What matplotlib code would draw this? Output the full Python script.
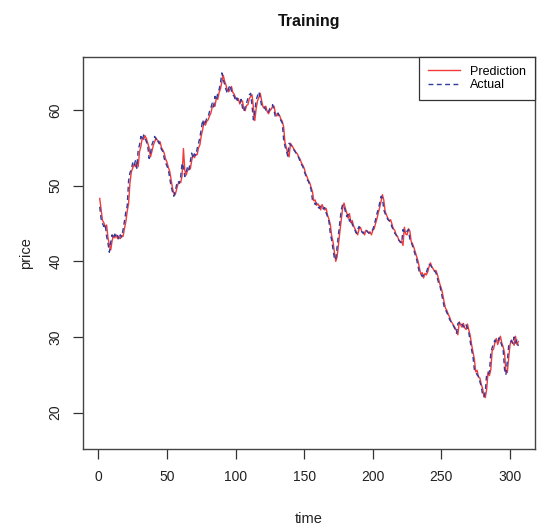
import numpy as np
import matplotlib
matplotlib.use("Agg")
import matplotlib.pyplot as plt

actual = [
    47.2, 45.6, 45.0, 44.6, 44.9, 43.3, 42.4, 41.2, 42.5, 43.5,
    43.0, 43.6, 43.1, 43.4, 42.9, 43.5, 43.2, 44.2, 45.3, 46.5,
    47.3, 50.6, 51.7, 52.1, 53.0, 52.6, 53.3, 52.3, 54.7, 55.4,
    56.5, 56.0, 56.7, 56.3, 55.8, 55.2, 53.6, 54.3, 55.4, 55.9,
    56.5, 56.2, 55.7, 55.9, 55.2, 54.8, 54.5, 53.6, 53.0, 52.6,
    52.1, 51.0, 49.9, 49.2, 48.6, 49.3, 50.1, 50.6, 50.3, 51.2,
    53.0, 52.4, 51.2, 51.8, 52.5, 52.1, 53.2, 54.3, 53.6, 54.2,
    54.0, 54.9, 55.6, 56.4, 57.5, 58.7, 57.9, 58.4, 58.9, 59.1,
    59.8, 60.3, 60.9, 60.4, 61.8, 61.3, 62.2, 62.7, 63.6, 64.9,
    64.0, 63.4, 62.7, 62.2, 62.9, 63.3, 62.5, 62.0, 61.8, 61.2,
    61.6, 61.0, 60.9, 61.4, 60.3, 59.8, 60.4, 60.9, 61.6, 62.0,
    62.2, 60.5, 58.7, 59.9, 61.3, 61.9, 62.4, 61.5, 60.5, 60.3,
    60.4, 60.0, 59.6, 59.8, 60.2, 60.3, 60.7, 59.9, 59.1, 59.4,
    59.6, 59.0, 58.6, 58.3, 56.1, 55.2, 54.6, 53.9, 55.6, 55.4,
    55.2, 54.8, 54.6, 54.3, 54.0, 53.7, 53.2, 52.8, 52.5, 51.9,
    51.4, 50.8, 50.6, 50.1, 49.5, 48.1, 48.0, 47.5, 47.7, 47.2,
    47.0, 47.4, 47.3, 46.9, 47.1, 46.4, 45.9, 45.3, 43.7, 42.8,
    41.6, 40.4, 40.2, 42.0, 43.6, 45.1, 46.8, 47.5, 47.3, 46.6,
    45.9, 46.2, 45.3, 45.6, 44.9, 44.5, 44.1, 43.7, 44.2, 44.6,
    44.1, 43.9, 43.7, 44.0, 44.2, 43.9, 43.8, 43.7, 44.0, 44.2,
    44.8, 45.5, 46.3, 46.9, 47.7, 48.6, 48.4, 46.8, 46.3, 45.9,
    45.5, 45.4, 45.1, 44.5, 44.2, 43.7, 43.5, 43.0, 42.8, 42.6,
    42.4, 44.2, 43.9, 43.7, 44.0, 44.2, 42.9, 42.5, 42.0, 41.4,
    40.8, 40.2, 39.3, 38.5, 38.3, 38.0, 38.2, 38.4, 38.5, 39.1,
    39.6, 39.5, 39.2, 38.9, 38.7, 38.5, 37.8, 37.1, 36.7, 35.8,
    34.9, 34.0, 33.6, 33.2, 32.8, 32.3, 32.0, 31.7, 31.4, 31.0,
    30.5, 31.8, 31.9, 31.5, 31.7, 31.4, 31.2, 31.6, 31.1, 30.5,
    29.4, 28.3, 27.4, 25.7, 25.4, 25.0, 24.8, 24.1, 23.5, 22.4,
    22.1, 22.8, 25.2, 25.1, 25.4, 27.9, 28.6, 29.1, 29.6, 29.2,
    29.3, 29.9, 29.4, 28.9, 28.3, 25.7, 25.0, 26.8, 28.8, 29.3,
    29.5, 29.1, 30.0, 29.2, 29.6, 28.8,
]

prediction = [
    48.3, 46.9, 45.4, 45.1, 44.5, 44.8, 43.1, 42.2, 41.5, 42.7,
    43.4, 43.1, 43.5, 43.0, 43.3, 43.0, 43.4, 43.3, 44.3, 45.2,
    46.6, 47.6, 50.3, 51.8, 52.3, 52.8, 52.5, 53.1, 52.5, 54.5,
    55.2, 56.3, 56.1, 56.6, 56.2, 55.6, 55.0, 53.8, 54.5, 55.3,
    55.8, 56.3, 56.0, 55.6, 55.8, 55.0, 54.7, 54.3, 53.5, 53.1,
    52.4, 51.9, 50.8, 49.7, 49.0, 48.8, 49.5, 50.2, 50.5, 50.4,
    51.3, 54.9, 52.0, 51.4, 52.0, 52.3, 52.2, 53.3, 54.1, 53.7,
    54.1, 54.1, 55.0, 55.4, 56.6, 57.4, 58.5, 58.0, 58.5, 58.7,
    59.2, 59.6, 60.4, 60.7, 60.5, 61.6, 61.4, 62.3, 62.8, 63.7,
    64.6, 63.8, 63.3, 62.6, 62.4, 62.8, 63.1, 62.3, 62.1, 61.6,
    61.3, 61.5, 60.8, 61.1, 61.2, 60.1, 59.9, 60.6, 60.7, 61.5,
    61.8, 62.0, 60.3, 58.6, 60.2, 61.2, 61.7, 62.2, 61.2, 60.4,
    60.2, 60.5, 59.8, 59.5, 59.9, 60.1, 60.5, 60.5, 59.6, 59.2,
    59.5, 59.3, 58.8, 58.5, 57.8, 55.7, 55.0, 54.3, 53.8, 55.6,
    55.3, 55.0, 54.7, 54.4, 54.2, 53.8, 53.5, 53.0, 52.7, 52.3,
    51.6, 51.2, 50.7, 50.4, 49.8, 49.2, 48.0, 48.1, 47.4, 47.6,
    47.3, 46.8, 47.5, 47.1, 46.8, 47.0, 46.1, 45.6, 44.9, 43.4,
    42.6, 41.2, 40.0, 40.6, 42.3, 43.9, 45.4, 47.0, 47.7, 47.0,
    46.4, 45.7, 46.3, 45.1, 45.4, 44.7, 44.3, 43.9, 43.5, 44.3,
    44.5, 43.9, 43.8, 43.5, 44.1, 44.0, 43.7, 43.9, 43.5, 44.1,
    44.3, 45.0, 45.6, 46.4, 47.1, 47.9, 48.8, 48.1, 46.6, 46.1,
    45.7, 45.3, 45.5, 44.9, 44.3, 44.1, 43.5, 43.3, 42.8, 42.5,
    42.7, 42.1, 44.5, 43.6, 43.5, 44.3, 44.0, 42.6, 42.3, 41.8,
    41.2, 40.6, 40.0, 39.1, 38.3, 38.5, 37.8, 38.4, 38.2, 38.6,
    39.3, 39.8, 39.3, 39.0, 38.7, 38.8, 38.3, 37.6, 36.9, 36.4,
    35.6, 34.6, 33.8, 33.5, 33.0, 32.6, 32.1, 31.8, 31.5, 31.2,
    30.8, 30.3, 32.0, 31.6, 31.3, 31.8, 31.2, 31.0, 31.7, 30.9,
    30.2, 29.0, 28.0, 27.1, 25.4, 25.6, 24.7, 24.6, 23.8, 23.2,
    22.2, 22.0, 23.1, 25.4, 24.9, 25.7, 28.2, 28.4, 29.3, 29.8,
    29.0, 29.5, 30.1, 29.2, 28.7, 27.9, 25.4, 25.3, 27.2, 29.0,
    29.6, 29.3, 28.9, 30.1, 29.0, 29.4,
]

x_ticks = [0, 50, 100, 150, 200, 250, 300]
y_ticks = [20, 30, 40, 50, 60]

t_act = np.arange(1, len(actual) + 1)
t_pred = np.arange(1, len(prediction) + 1)

plt.rcParams['font.family'] = ['Liberation Sans', 'DejaVu Sans']

fig = plt.figure(figsize=(5.42, 5.32), dpi=100)
ax = fig.add_axes([83 / 542, 1 - 449 / 532, (535 - 83) / 542, (449 - 57) / 532])

ax.plot(t_pred, prediction, color='#F23A3A', lw=1.0, label='Prediction')
ax.plot(t_act, actual, color='#2F3C9E', lw=1.0, ls=(0, (3.5, 2.5)), label='Actual')

n = max(len(actual), len(prediction))
pad = 0.04 * (n - 1)
ax.set_xlim(1 - pad, n + pad)
ax.set_ylim(15.2, 67.0)

ax.set_xticks(x_ticks)
ax.set_yticks(y_ticks)
ax.tick_params(direction='out', length=7, width=0.9, colors='#333333',
               labelsize=10, pad=8, labelcolor='#222222')
for lab in ax.get_yticklabels():
    lab.set_rotation(90)
    lab.set_va('center')

for sp in ax.spines.values():
    sp.set_color('#444444')
    sp.set_linewidth(1.0)

ax.set_xlabel('time', fontsize=10.5, color='#222222', labelpad=20)
ax.set_ylabel('price', fontsize=10.5, color='#222222', labelpad=11)
ax.set_title('Training', fontsize=11.5, fontweight='bold', color='#111111', pad=22)

leg = ax.legend(loc='upper right', fontsize=9, frameon=True, fancybox=False,
                borderaxespad=0, handlelength=2.6, handletextpad=0.8,
                labelspacing=0.1, borderpad=0.7)
leg.get_frame().set_edgecolor('#333333')
leg.get_frame().set_linewidth(0.9)
leg.get_frame().set_alpha(1)

fig.savefig('out.png', dpi=100)
